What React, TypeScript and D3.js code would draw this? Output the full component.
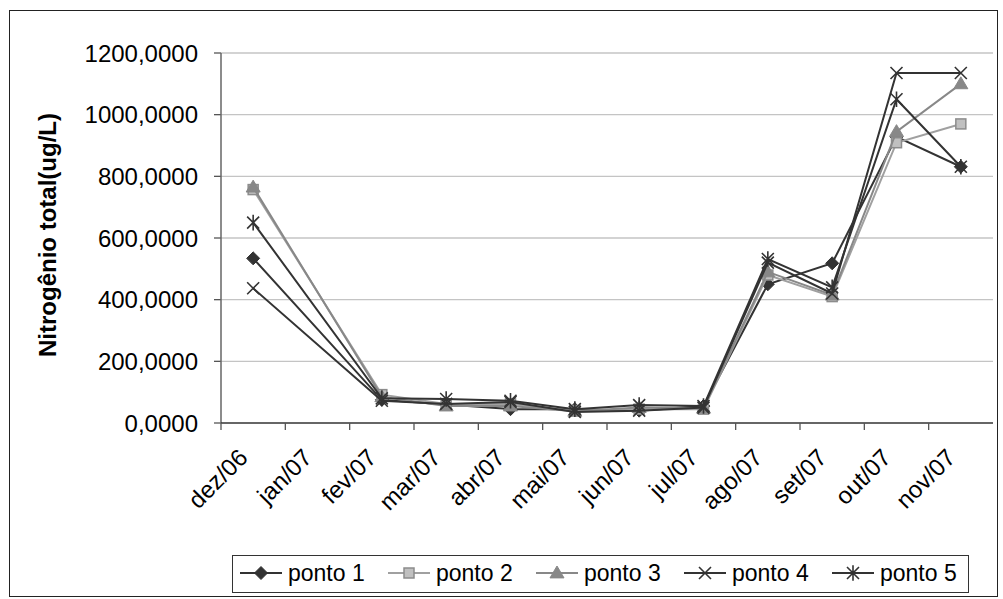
import React from "react";
import * as d3 from "d3";

const months = ["dez/06", "jan/07", "fev/07", "mar/07", "abr/07", "mai/07", "jun/07", "jul/07", "ago/07", "set/07", "out/07", "nov/07"];
const sampleMonths = ["dez/06", "fev/07", "mar/07", "abr/07", "mai/07", "jun/07", "jul/07", "ago/07", "set/07", "out/07", "nov/07"];
const yTicks = [0, 200, 400, 600, 800, 1000, 1200];

const ponto1 = [534, 75, 60, 45, 45, 40, 55, 450, 518, 928, 831];
const ponto2 = [757, 92, 62, 62, 40, 45, 45, 480, 410, 909, 970];
const ponto3 = [765, 85, 55, 55, 38, 50, 48, 490, 415, 945, 1100];
const ponto4 = [437, 72, 62, 68, 36, 40, 50, 520, 420, 1135, 1135];
const ponto5 = [650, 80, 78, 72, 45, 58, 55, 532, 440, 1050, 831];

const seriesNames = ["ponto 1", "ponto 2", "ponto 3", "ponto 4", "ponto 5"];

type Style = { line: string; marker: string };
const styles: Style[] = [
  { line: "#333333", marker: "diamond" },
  { line: "#a0a0a0", marker: "square" },
  { line: "#888888", marker: "triangle" },
  { line: "#333333", marker: "x" },
  { line: "#333333", marker: "star" },
];

const W = 1003;
const H = 599;
const plot = { left: 221, right: 993, top: 53, bottom: 423 };
const FONT = "Liberation Sans, Arial, sans-serif";

function Marker({ kind, x, y }: { kind: string; x: number; y: number }) {
  if (kind === "diamond") {
    const s = 6.5;
    return <path d={`M${x},${y - s}L${x + s},${y}L${x},${y + s}L${x - s},${y}Z`} fill="#333333" stroke="#333333" strokeWidth={1} />;
  }
  if (kind === "square") {
    const s = 5;
    return <rect x={x - s} y={y - s} width={2 * s} height={2 * s} fill="#c0c0c0" stroke="#8c8c8c" strokeWidth={1.5} />;
  }
  if (kind === "triangle") {
    const s = 7;
    return <path d={`M${x},${y - s}L${x + s},${y + s * 0.7}L${x - s},${y + s * 0.7}Z`} fill="#888888" stroke="#888888" strokeWidth={1} />;
  }
  if (kind === "x") {
    const s = 6;
    return <path d={`M${x - s},${y - s}L${x + s},${y + s}M${x - s},${y + s}L${x + s},${y - s}`} stroke="#333333" strokeWidth={1.6} fill="none" />;
  }
  const s = 6;
  return <path d={`M${x - s},${y - s}L${x + s},${y + s}M${x - s},${y + s}L${x + s},${y - s}M${x},${y - s * 1.3}L${x},${y + s * 1.3}`} stroke="#333333" strokeWidth={1.6} fill="none" />;
}

export default function App() {
  const data = [ponto1, ponto2, ponto3, ponto4, ponto5];
  const x = d3.scaleBand<string>().domain(months).range([plot.left, plot.right]);
  const y = d3.scaleLinear().domain([0, 1200]).range([plot.bottom, plot.top]);
  const cx = (m: string) => (x(m) as number) + x.bandwidth() / 2;
  const line = d3.line<[string, number]>().x((d) => cx(d[0])).y((d) => y(d[1]));
  const fmt = (v: number) => d3.format(".4f")(v).replace(".", ",");

  const legendX0 = 240;
  const legendPitch = 148;
  const legendY = 573;

  return (
    <svg width={W} height={H} style={{ position: "absolute", left: 0, top: 0, background: "#fff" }} fontFamily={FONT}>
      <rect x={9.5} y={10.5} width={988} height={586} fill="#fff" stroke="#222" strokeWidth={1} />
      {yTicks.filter((t) => t > 0).map((t) => (
        <line key={t} x1={plot.left} x2={plot.right} y1={y(t)} y2={y(t)} stroke="#c4c4c4" strokeWidth={1.3} />
      ))}
      {yTicks.map((t) => (
        <g key={"yt" + t}>
          <line x1={plot.left - 7} x2={plot.left} y1={y(t)} y2={y(t)} stroke="#555" strokeWidth={1.3} />
          <text x={198} y={y(t)} dy="0.36em" textAnchor="end" fontSize={24} fill="#000">{fmt(t)}</text>
        </g>
      ))}
      <line x1={plot.left} x2={plot.left} y1={plot.top} y2={plot.bottom} stroke="#666" strokeWidth={1.5} />
      <line x1={plot.left} x2={plot.right} y1={plot.bottom} y2={plot.bottom} stroke="#333" strokeWidth={1.5} />
      {months.map((m) => (
        <g key={m}>
          <line x1={x(m) as number} x2={x(m) as number} y1={plot.bottom} y2={plot.bottom + 7} stroke="#555" strokeWidth={1.3} />
          <text transform={`translate(${cx(m) - 4},${plot.bottom + 36}) rotate(-45)`} textAnchor="end" fontSize={24} fill="#000">{m}</text>
        </g>
      ))}
      <text transform={`translate(56,235) rotate(-90)`} textAnchor="middle" fontSize={24} fontWeight="bold" fill="#000">Nitrogênio total(ug/L)</text>
      {data.map((vals, i) => {
        const pts = sampleMonths.map((m, j) => [m, vals[j]] as [string, number]);
        return (
          <g key={i}>
            <path d={line(pts) as string} fill="none" stroke={styles[i].line} strokeWidth={2} />
            {pts.map((p, j) => (
              <Marker key={j} kind={styles[i].marker} x={cx(p[0])} y={y(p[1])} />
            ))}
          </g>
        );
      })}
      <rect x={232.5} y={555.5} width={736} height={37} fill="#fff" stroke="#333" strokeWidth={1} />
      {seriesNames.map((n, i) => {
        const lx = legendX0 + i * legendPitch;
        return (
          <g key={n}>
            <line x1={lx} x2={lx + 42} y1={legendY} y2={legendY} stroke={styles[i].line} strokeWidth={2} />
            <Marker kind={styles[i].marker} x={lx + 21} y={legendY} />
            <text x={lx + 48} y={legendY} dy="0.36em" fontSize={23} fill="#000">{n}</text>
          </g>
        );
      })}
    </svg>
  );
}
